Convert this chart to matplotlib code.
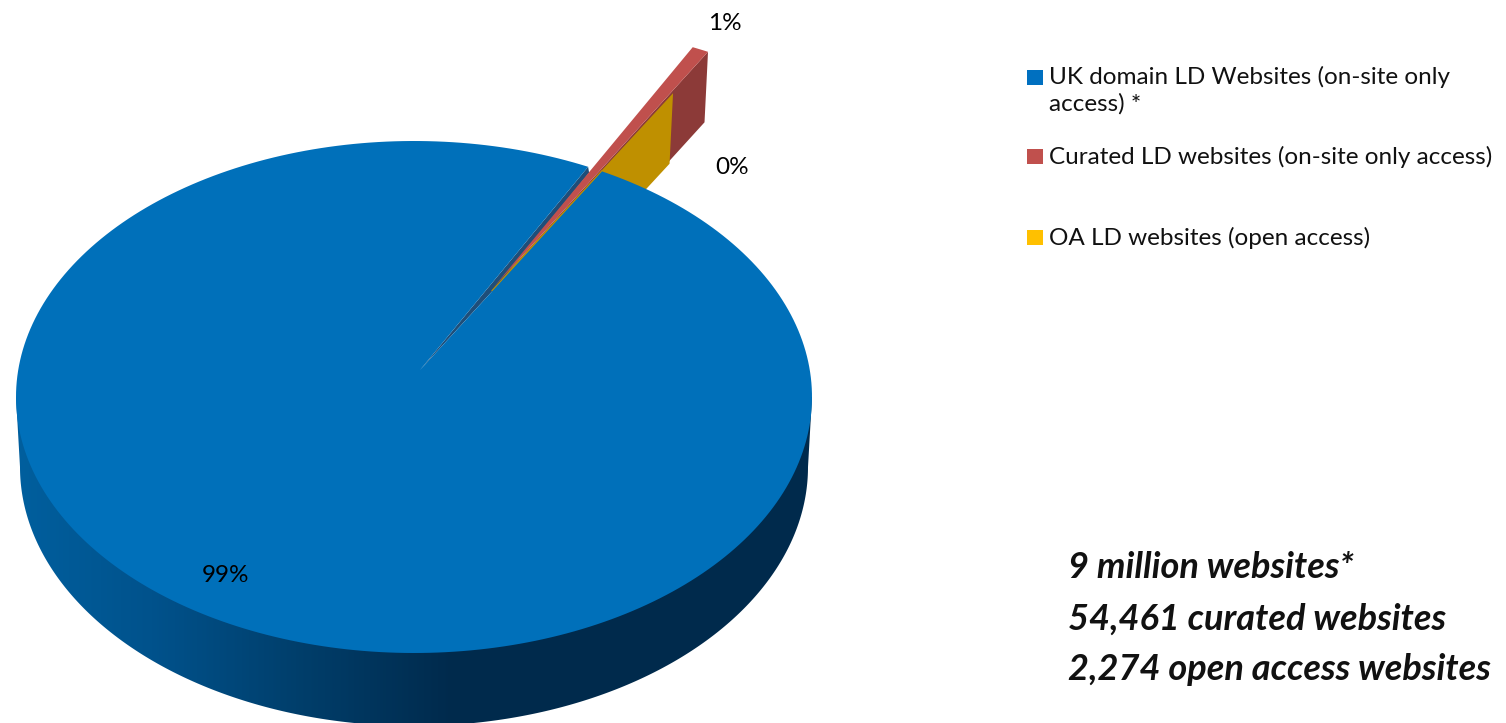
"""
exploded 3D pie of UK legal deposit websites, drawn in pixel coordinates
"""
import numpy as np
import matplotlib
matplotlib.use("Agg")
import matplotlib.pyplot as plt
from matplotlib.colors import LinearSegmentedColormap
from matplotlib.patches import Polygon, Rectangle

categories = ["UK domain LD Websites (on-site only\naccess) *",
              "Curated LD websites (on-site only access)",
              "OA LD websites (open access)"]
site_counts = [9000000, 54461, 2274]
notes = ["9 million websites*", "54,461 curated websites", "2,274 open access websites"]

top_colors = ["#0070BA", "#C0504D", "#BF9000"]
wall_colors = ["#1F4E79", "#8C3A38", "#BF9000"]
legend_colors = ["#0070C0", "#C0504D", "#FFC000"]
side_stops = [(0.0, "#005F9E"), (0.17, "#00528C"), (0.35, "#003F6C"), (0.55, "#002A4C"), (1.0, "#002B4D")]

plt.rcParams['font.family'] = ['Lato', 'DejaVu Sans']

shares = np.array(site_counts) / sum(site_counts)
sweeps = shares * 360
first_angle = 61.8  # where the big slice starts, degrees


def arc(cx, cy, a, b, t0, t1, n=300):
    t = np.radians(np.linspace(t0, t1, n))
    return np.column_stack([cx + a * np.cos(t), cy - b * np.sin(t)])


fig = plt.figure(figsize=(15.06, 7.23), dpi=100)
ax = fig.add_axes([0, 0, 1, 1])
ax.set_xlim(0, 1506)
ax.set_ylim(723, 0)
ax.axis("off")

# rim of the big slice, gradient clipped to the outline
rim = np.vstack([arc(414, 397, 398, 256, 180, 180, 2),
                 arc(414, 467, 394, 259, 180, 360),
                 arc(414, 397, 398, 256, 360, 360, 2)])
rim_patch = Polygon(rim, closed=True, facecolor="none", edgecolor="none")
ax.add_patch(rim_patch)
cmap = LinearSegmentedColormap.from_list("rim", side_stops)
img = ax.imshow(np.linspace(0, 1, 400).reshape(1, -1), cmap=cmap, aspect="auto",
                extent=(15, 813, 730, 390), zorder=1)
img.set_clip_path(rim_patch)
ax.set_xlim(0, 1506)
ax.set_ylim(723, 0)

# pulled out slices: same apex, stretched radii, angles from the shares
apex = np.array([493.0, 288.0])
depth = np.array([-3.5, 70.5])
red_end = first_angle + sweeps[1]
red_top = arc(apex[0], apex[1], 455, 268, first_angle, red_end, 10)
yellow_top = arc(apex[0], apex[1], 381, 221, first_angle, first_angle + sweeps[2], 2)

red_wall = np.array([apex, red_top[0], red_top[0] + depth, apex + depth])
ax.add_patch(Polygon(red_wall, facecolor=wall_colors[1], edgecolor="none", zorder=2))
yellow_wall = np.array([apex, yellow_top[0], yellow_top[0] + depth, apex + depth])
ax.add_patch(Polygon(yellow_wall, facecolor=wall_colors[2], edgecolor="none", zorder=3))
ax.add_patch(Polygon(np.vstack([apex, red_top]), facecolor=top_colors[1], edgecolor="none", zorder=4))

# top of the big slice with its notch, dark inner wall underneath
blue_apex = np.array([420.0, 370.0])
blue_arc = arc(414, 397, 398, 256, first_angle + sweeps[1] + sweeps[2], first_angle + 360)
right_edge = blue_apex + 0.4 * (blue_arc[-1] - blue_apex)
notch = np.vstack([blue_apex, blue_arc[0], blue_arc[0] + [1, 6], right_edge])
ax.add_patch(Polygon(notch, facecolor=wall_colors[0], edgecolor="none", zorder=3.5))
ax.plot([right_edge[0], blue_arc[-1][0]], [right_edge[1], blue_arc[-1][1]], color=top_colors[2], lw=1.6, zorder=4.5)
ax.add_patch(Polygon(np.vstack([blue_apex, blue_arc]), facecolor=top_colors[0], edgecolor="none", zorder=5))

# percent labels
pct = ["%d%%" % round(s * 100) for s in shares]
ax.text(226, 576, pct[0], fontsize=17.5, ha="center", va="center", color="black", zorder=6)
ax.text(725, 23, pct[1], fontsize=17.5, ha="center", va="center", color="black", zorder=6)
ax.text(732, 167, pct[2], fontsize=17.5, ha="center", va="center", color="black", zorder=6)

# legend
swatch_tops = [70, 149, 230]
text_tops = [66, 146, 227]
for color, name, sy, ty in zip(legend_colors, categories, swatch_tops, text_tops):
    ax.add_patch(Rectangle((1027.5, sy), 15.5, 15, facecolor=color, edgecolor="none"))
    ax.text(1049, ty, name, fontsize=17.5, va="top", ha="left", color="#111111", linespacing=1.3)

# note in the corner
for line, y in zip(notes, [568, 619, 669]):
    ax.text(1068, y, line, fontsize=26, fontweight="bold", fontstyle="italic",
            va="center", ha="left", color="#111111")

fig.savefig("out.png", dpi=100)
